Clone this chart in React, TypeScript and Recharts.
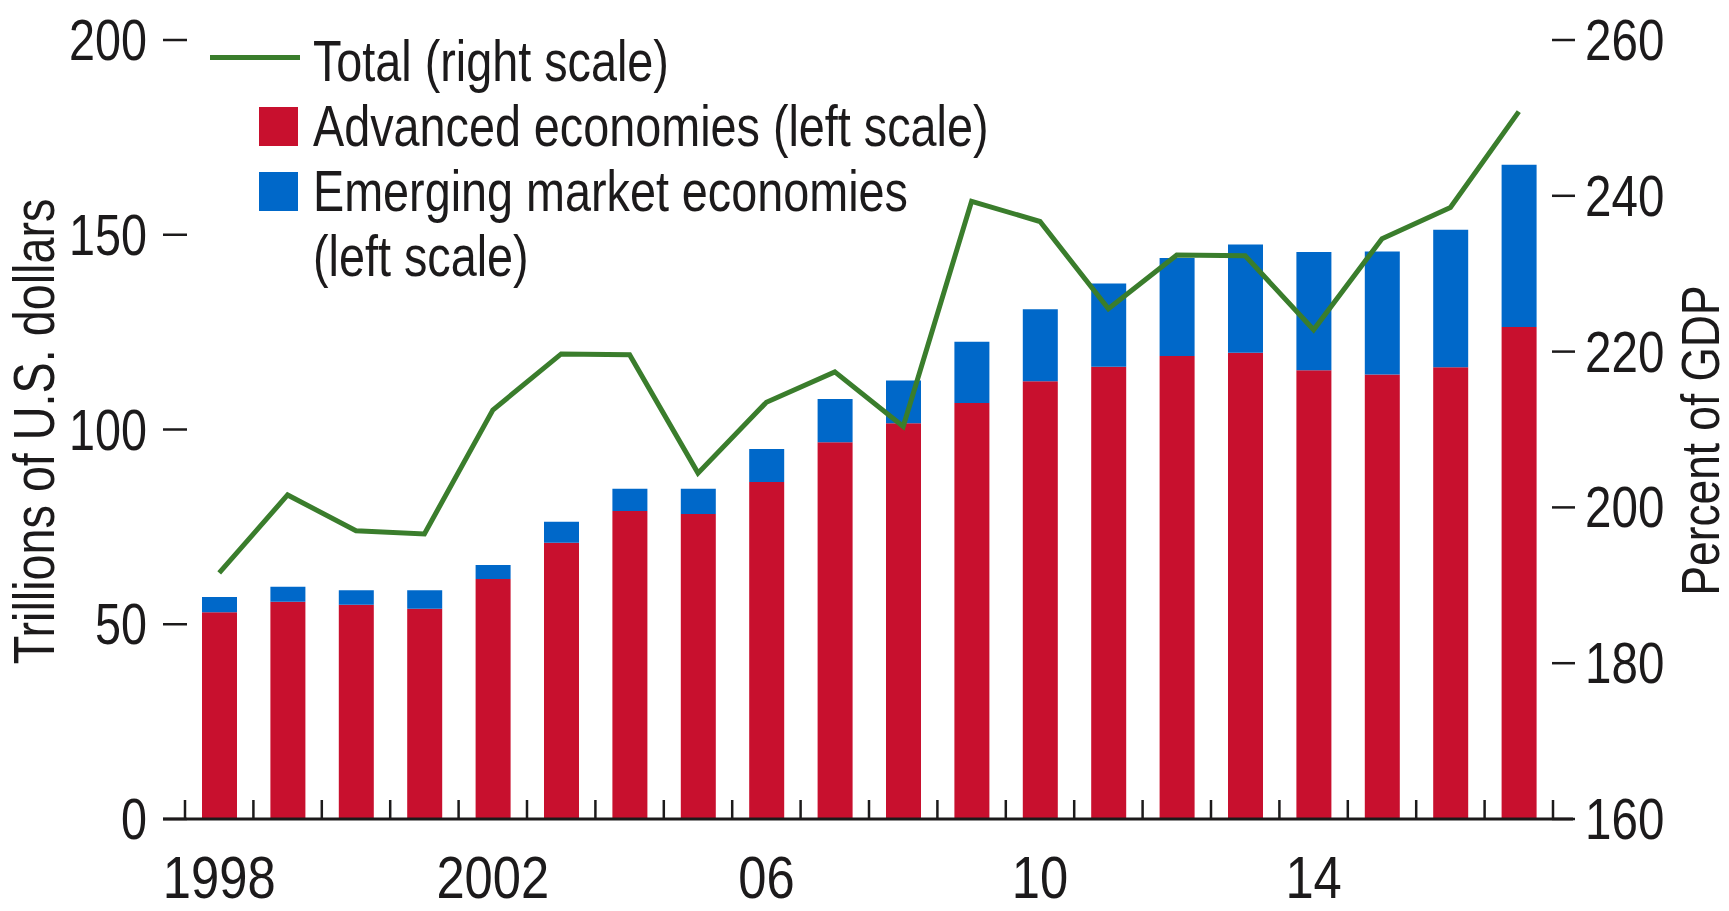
import React from "react"
import { ComposedChart, Bar, Line, XAxis, YAxis, Legend } from "recharts"

const years = [
  "1998", "1999", "2000", "2001", "2002", "2003", "2004", "2005", "2006", "2007",
  "2008", "2009", "2010", "2011", "2012", "2013", "2014", "2015", "2016", "2017",
]
const yearLabels = [
  "1998", "", "", "", "2002", "", "", "", "06", "",
  "", "", "10", "", "", "", "14", "", "", "",
]
// trillions of U.S. dollars (left scale)
const advanced = [
  53.1, 55.8, 55.0, 54.0, 61.6, 70.9, 79.1, 78.3, 86.5, 96.7,
  101.6, 106.8, 112.4, 116.1, 118.9, 119.7, 115.2, 114.1, 116.0, 126.3,
]
const emerging = [
  3.9, 3.8, 3.7, 4.7, 3.6, 5.4, 5.7, 6.5, 8.5, 11.1,
  11.0, 15.7, 18.5, 21.4, 25.1, 27.8, 30.4, 31.6, 35.3, 41.7,
]
// percent of GDP (right scale)
const totalPct = [
  191.6, 201.6, 197.0, 196.6, 212.5, 219.7, 219.6, 204.4, 213.5, 217.4,
  210.4, 239.3, 236.7, 225.5, 232.4, 232.3, 222.8, 234.5, 238.5, 250.8,
]
const leftTicks = [0, 50, 100, 150, 200]
const rightTicks = [160, 180, 200, 220, 240, 260]

const RED = "#c8102e"
const BLUE = "#0068c9"
const GREEN = "#3a7d2c"
const INK = "#1c1a1b"
// Arial Narrow look: Liberation Sans squeezed horizontally
const FONT = "'Liberation Sans', Arial, sans-serif"
const NARROW = 0.82

const data = years.map((year, i) => ({
  year,
  advanced: advanced[i],
  emerging: emerging[i],
  total: totalPct[i],
}))

function NarrowText({ x, y, size, anchor = "start", rotate = 0, children, sx = NARROW }: any) {
  return (
    <text
      transform={`translate(${x}, ${y}) rotate(${rotate}) scale(${sx}, 1)`}
      textAnchor={anchor}
      fontSize={size}
      fill={INK}
      fontFamily={FONT}
    >
      {children}
    </text>
  )
}

function YearTick({ x, y, payload, index }: any) {
  const half = payload?.offset || 34.2
  const last = index === years.length - 1
  return (
    <g>
      <line x1={x - half} x2={x - half} y1={y - 19} y2={y} stroke={INK} strokeWidth={2.5} />
      {last && (
        <line x1={x + half} x2={x + half} y1={y - 19} y2={y} stroke={INK} strokeWidth={2.5} />
      )}
      {yearLabels[index] && (
        <NarrowText x={x} y={y + 79} size={59} anchor="middle" sx={0.86}>
          {yearLabels[index]}
        </NarrowText>
      )}
    </g>
  )
}

function LeftTick({ x, y, payload }: any) {
  return (
    <g>
      <line x1={x} x2={x + 24} y1={y} y2={y} stroke={INK} strokeWidth={2.5} />
      <NarrowText x={x - 16} y={y + 20} size={57} anchor="end">
        {payload.value}
      </NarrowText>
    </g>
  )
}

function RightTick({ x, y, payload }: any) {
  return (
    <g>
      <line x1={x - 21} x2={x + 2} y1={y} y2={y} stroke={INK} strokeWidth={2.5} />
      <NarrowText x={x + 12} y={y + 20} size={58} anchor="start">
        {payload.value}
      </NarrowText>
    </g>
  )
}

// rotated title; baseline shifted so the glyphs are centred on dx
function AxisTitle({ viewBox, text, dx, dy, size }: any) {
  const cx = viewBox.x + dx + size * 0.36
  const cy = viewBox.y + viewBox.height / 2 + dy
  return (
    <NarrowText x={cx} y={cy} size={size} anchor="middle" rotate={-90}>
      {text}
    </NarrowText>
  )
}

function LegendBox() {
  const row: React.CSSProperties = {
    display: "flex",
    alignItems: "center",
    height: 65,
    lineHeight: "65px",
    whiteSpace: "nowrap",
  }
  const label: React.CSSProperties = {
    display: "inline-block",
    transform: `scaleX(${NARROW})`,
    transformOrigin: "left center",
  }
  const swatch = (color: string): React.CSSProperties => ({
    width: 39,
    height: 39,
    background: color,
    marginLeft: 49,
    marginRight: 15,
    flex: "none",
  })
  return (
    <div style={{ fontFamily: FONT, fontSize: 57, color: INK }}>
      <div style={row}>
        <span
          style={{ width: 90, height: 5, background: GREEN, marginRight: 13, marginTop: -8, flex: "none" }}
        />
        <span style={label}>Total (right scale)</span>
      </div>
      <div style={row}>
        <span style={swatch(RED)} />
        <span style={label}>Advanced economies (left scale)</span>
      </div>
      <div style={row}>
        <span style={swatch(BLUE)} />
        <span style={label}>Emerging market economies</span>
      </div>
      <div style={{ ...row, paddingLeft: 103 }}>
        <span style={label}>(left scale)</span>
      </div>
    </div>
  )
}

export default function App() {
  return (
    <div style={{ position: "absolute", left: 0, top: 0, width: 1729, height: 911, background: "#fff" }}>
      <ComposedChart
        width={1729}
        height={911}
        data={data}
        margin={{ top: 40, right: 0, bottom: 0, left: 0 }}
      >
        <XAxis
          dataKey="year"
          height={92}
          interval={0}
          padding={{ left: 22, right: 20 }}
          tickSize={0}
          tickMargin={0}
          tickLine={false}
          axisLine={{ stroke: INK, strokeWidth: 3 }}
          tick={<YearTick />}
        />
        <YAxis
          yAxisId="left"
          width={163}
          domain={[0, 200]}
          ticks={leftTicks}
          tickSize={0}
          tickMargin={0}
          tickLine={false}
          axisLine={false}
          tick={<LeftTick />}
          label={<AxisTitle text="Trillions of U.S. dollars" dx={33} dy={2} size={57} />}
        />
        <YAxis
          yAxisId="right"
          orientation="right"
          width={156}
          domain={[160, 260]}
          ticks={rightTicks}
          tickSize={0}
          tickMargin={0}
          tickLine={false}
          axisLine={false}
          tick={<RightTick />}
          label={<AxisTitle text="Percent of GDP" dx={127} dy={11} size={54} />}
        />
        <Legend
          layout="vertical"
          align="center"
          verticalAlign="middle"
          wrapperStyle={{ left: 210, top: 29, width: 760 }}
          content={<LegendBox />}
        />
        <Bar
          yAxisId="left"
          dataKey="advanced"
          stackId="debt"
          fill={RED}
          barSize={35}
          isAnimationActive={false}
        />
        <Bar
          yAxisId="left"
          dataKey="emerging"
          stackId="debt"
          fill={BLUE}
          barSize={35}
          isAnimationActive={false}
        />
        <Line
          yAxisId="right"
          dataKey="total"
          type="linear"
          stroke={GREEN}
          strokeWidth={5}
          dot={false}
          isAnimationActive={false}
        />
      </ComposedChart>
    </div>
  )
}
